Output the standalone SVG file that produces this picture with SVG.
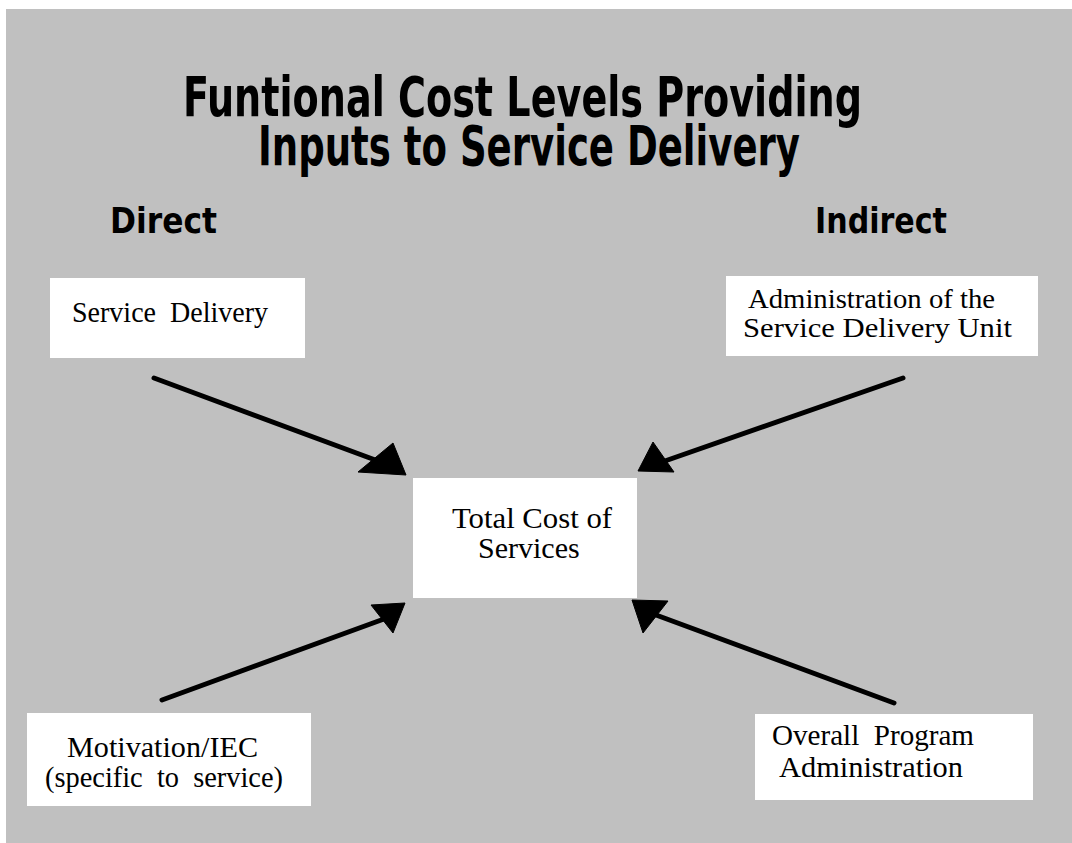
<svg xmlns="http://www.w3.org/2000/svg" width="1072" height="843" viewBox="0 0 1072 843">
  <style>
    .panel { fill: #c0c0c0; }
    .box { fill: #ffffff; }
    .title { font-family: "DejaVu Sans", "Liberation Sans", sans-serif; font-weight: bold; font-stretch: condensed; font-size: 55px; fill: #000; }
    .side { font-family: "DejaVu Sans", "Liberation Sans", sans-serif; font-weight: bold; font-size: 36px; fill: #000; }
    .label { font-family: "Liberation Serif", "Times New Roman", serif; font-size: 30px; fill: #000; white-space: pre; }
    .label.tight { font-size: 27px; }
    .shaft { stroke: #000; stroke-width: 5; stroke-linecap: round; fill: none; }
    .head { fill: #000; stroke: #000; stroke-width: 1; stroke-linejoin: round; }
  </style>

  <!-- background panel -->
  <rect class="panel" x="6" y="9" width="1066" height="834"/>

  <!-- headings -->
  <g id="title">
    <text class="title" x="183" y="116" textLength="679" lengthAdjust="spacingAndGlyphs">Funtional Cost Levels Providing</text>
    <text class="title" x="258" y="165" textLength="542" lengthAdjust="spacingAndGlyphs">Inputs to Service Delivery</text>
  </g>
  <g id="heading-direct">
    <text class="side" x="110" y="233" textLength="107" lengthAdjust="spacingAndGlyphs">Direct</text>
  </g>
  <g id="heading-indirect">
    <text class="side" x="815" y="233" textLength="132" lengthAdjust="spacingAndGlyphs">Indirect</text>
  </g>

  <!-- cost input nodes -->
  <g id="service-delivery">
    <rect class="box" x="50" y="278" width="255" height="80"/>
    <text class="label" x="72" y="322" textLength="196" lengthAdjust="spacingAndGlyphs">Service  Delivery</text>
  </g>

  <g id="admin-unit">
    <rect class="box" x="726" y="276" width="312" height="80"/>
    <text class="label tight" x="748" y="308" textLength="247" lengthAdjust="spacingAndGlyphs">Administration of the</text>
    <text class="label tight" x="743" y="337" textLength="269" lengthAdjust="spacingAndGlyphs">Service Delivery Unit</text>
  </g>

  <g id="total-cost">
    <rect class="box" x="413" y="478" width="224" height="120"/>
    <text class="label" x="452" y="528" textLength="160" lengthAdjust="spacingAndGlyphs">Total Cost of</text>
    <text class="label" x="478" y="558">Services</text>
  </g>

  <g id="motivation">
    <rect class="box" x="27" y="713" width="284" height="93"/>
    <text class="label" x="67" y="757" textLength="191" lengthAdjust="spacingAndGlyphs">Motivation/IEC</text>
    <text class="label" x="45" y="787" textLength="238" lengthAdjust="spacingAndGlyphs">(specific  to  service)</text>
  </g>

  <g id="program-admin">
    <rect class="box" x="755" y="714" width="278" height="86"/>
    <text class="label" x="772" y="745" textLength="202" lengthAdjust="spacingAndGlyphs">Overall  Program</text>
    <text class="label" x="779" y="777" textLength="184" lengthAdjust="spacingAndGlyphs">Administration</text>
  </g>

  <!-- arrows into the total -->
  <g id="connectors">
    <line class="shaft" x1="154" y1="378" x2="378" y2="461"/>
    <polygon class="head" points="358,472 393,443 406,475"/>

    <line class="shaft" x1="903" y1="378" x2="662" y2="462"/>
    <polygon class="head" points="638,471 653,442 674,472"/>

    <line class="shaft" x1="162" y1="700" x2="384" y2="619"/>
    <polygon class="head" points="371,605 405,603 393,633"/>

    <line class="shaft" x1="894" y1="703" x2="656" y2="615"/>
    <polygon class="head" points="632,600 668,601 643,633"/>
  </g>
</svg>
